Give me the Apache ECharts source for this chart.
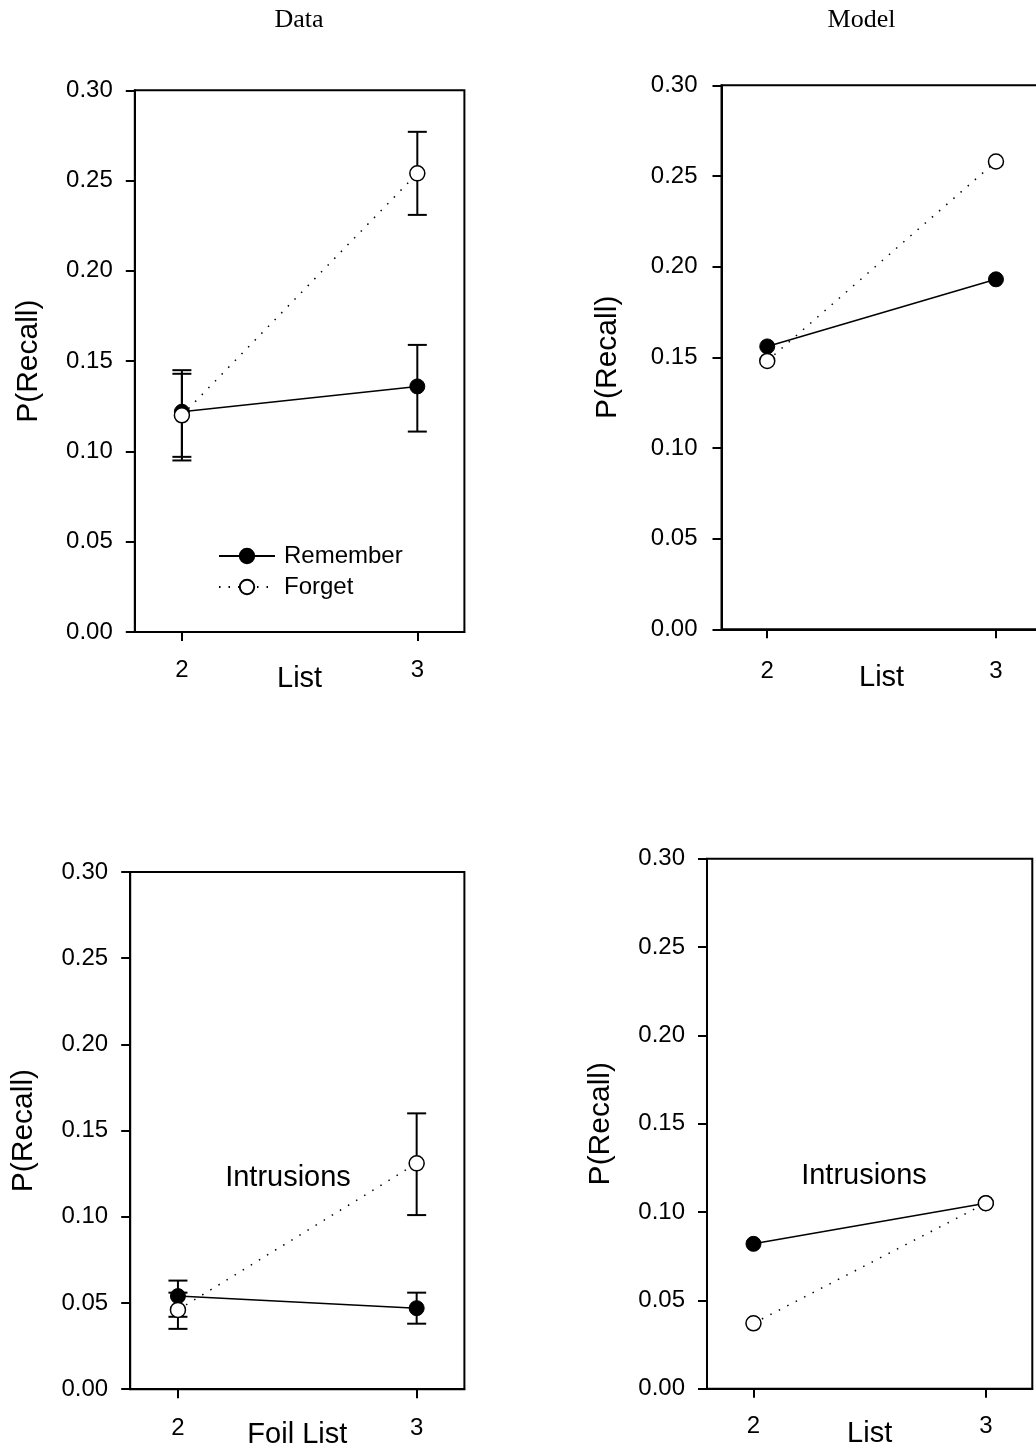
<!DOCTYPE html>
<html>
<head>
<meta charset="utf-8">
<title>P(Recall) by List: Data and Model</title>
<script src="https://cdn.jsdelivr.net/npm/echarts@6/dist/echarts.min.js"></script>
<style>
  html, body { margin: 0; padding: 0; background: #fff; }
  #chart { width: 1036px; height: 1450px; }
</style>
</head>
<body>
<div id="chart"></div>
<script>
// List positions shown on every x axis
const listValues = [2, 3];
const xTickLabels = ['2', '3'];

// Recall, observed (means with error-bar ends)
const recallDataRemember = [0.122, 0.136];
const recallDataForget = [0.120, 0.254];
const recallDataRememberLow = [0.097, 0.111];
const recallDataRememberHigh = [0.145, 0.159];
const recallDataForgetLow = [0.095, 0.231];
const recallDataForgetHigh = [0.143, 0.277];

// Recall, model predictions
const recallModelRemember = [0.156, 0.193];
const recallModelForget = [0.148, 0.258];

// Intrusions, observed (means with error-bar ends)
const intrusionDataRemember = [0.054, 0.047];
const intrusionDataForget = [0.046, 0.131];
const intrusionDataRememberLow = [0.042, 0.038];
const intrusionDataRememberHigh = [0.063, 0.056];
const intrusionDataForgetLow = [0.035, 0.101];
const intrusionDataForgetHigh = [0.056, 0.160];

// Intrusions, model predictions
const intrusionModelRemember = [0.082, 0.105];
const intrusionModelForget = [0.037, 0.105];

const SANS = '"Liberation Sans", Arial, sans-serif';
const SERIF = '"Liberation Serif", "Times New Roman", serif';

const chart = echarts.init(document.getElementById('chart'), null, { renderer: 'canvas' });

// Plot frames (pixels); the top-right frame runs past the right edge
const grids = [
  { left: 134.8, top: 90.3, width: 329.6, height: 541.7 },
  { left: 721.5, top: 85.3, width: 320.2, height: 544 },
  { left: 130.2, top: 872, width: 334.2, height: 517.2 },
  { left: 707, top: 858.7, width: 325.3, height: 530 }
];

const xNames = ['List', 'List', 'Foil List', 'List'];
const xLabelMargins = [26, 30, 27, 26];
const xNameGaps = [32, 34, 31, 31];
const yNameGaps = [91, 99, 91, 91];
const yLabelMargins = [22, 24, 22, 22];

const xAxes = grids.map((g, i) => ({
  type: 'value',
  gridIndex: i,
  min: 1.8,
  max: 3.2,
  name: xNames[i],
  nameLocation: 'middle',
  nameGap: xNameGaps[i],
  nameMoveOverlap: false,
  nameTextStyle: { fontFamily: SANS, fontSize: 29, color: '#000' },
  axisLine: { show: true, lineStyle: { color: '#000', width: 2 } },
  axisTick: { show: true, length: 9, customValues: listValues, lineStyle: { color: '#000', width: 2 } },
  axisLabel: {
    show: true,
    customValues: listValues,
    margin: xLabelMargins[i],
    fontFamily: SANS,
    fontSize: 24,
    color: '#000',
    formatter: v => xTickLabels[listValues.indexOf(v)]
  },
  splitLine: { show: false }
}));

const yAxes = grids.map((g, i) => ({
  type: 'value',
  gridIndex: i,
  min: 0,
  max: 0.3,
  interval: 0.05,
  name: 'P(Recall)',
  nameLocation: 'middle',
  nameGap: yNameGaps[i],
  nameMoveOverlap: false,
  nameTextStyle: { fontFamily: SANS, fontSize: 30, color: '#000' },
  axisLine: { show: true, lineStyle: { color: '#000', width: 2 } },
  axisTick: { show: true, length: 9, lineStyle: { color: '#000', width: 2 } },
  axisLabel: {
    margin: yLabelMargins[i],
    fontFamily: SANS,
    fontSize: 24,
    color: '#000',
    formatter: v => v.toFixed(2)
  },
  splitLine: { show: false }
}));

// Vertical error bar with short horizontal caps
function errorBarItem(params, api) {
  const x = api.value(0);
  const top = api.coord([x, api.value(2)]);
  const bottom = api.coord([x, api.value(1)]);
  const half = 9.5;
  const style = { stroke: '#000', lineWidth: 2 };
  return {
    type: 'group',
    children: [
      { type: 'line', shape: { x1: top[0], y1: top[1], x2: bottom[0], y2: bottom[1] }, style },
      { type: 'line', shape: { x1: top[0] - half, y1: top[1], x2: top[0] + half, y2: top[1] }, style },
      { type: 'line', shape: { x1: bottom[0] - half, y1: bottom[1], x2: bottom[0] + half, y2: bottom[1] }, style }
    ]
  };
}

function errorSeries(gridIndex, low, high) {
  return {
    type: 'custom',
    xAxisIndex: gridIndex,
    yAxisIndex: gridIndex,
    renderItem: errorBarItem,
    z: 1,
    silent: true,
    data: listValues.map((x, k) => [x, low[k], high[k]])
  };
}

function rememberSeries(gridIndex, values) {
  return {
    name: 'Remember',
    type: 'line',
    xAxisIndex: gridIndex,
    yAxisIndex: gridIndex,
    z: 3,
    symbol: 'circle',
    symbolSize: 15,
    lineStyle: { color: '#000', width: 1.5, type: 'solid' },
    itemStyle: { color: '#000', borderColor: '#000', borderWidth: 1 },
    data: listValues.map((x, k) => [x, values[k]])
  };
}

function forgetSeries(gridIndex, values) {
  return {
    name: 'Forget',
    type: 'line',
    xAxisIndex: gridIndex,
    yAxisIndex: gridIndex,
    z: 4,
    symbol: 'circle',
    symbolSize: 15,
    lineStyle: { color: '#000', width: 1.5, type: [1.5, 8] },
    itemStyle: { color: '#fff', borderColor: '#000', borderWidth: 1.5 },
    data: listValues.map((x, k) => [x, values[k]])
  };
}

const series = [
  // Data: recall
  errorSeries(0, recallDataRememberLow, recallDataRememberHigh),
  errorSeries(0, recallDataForgetLow, recallDataForgetHigh),
  rememberSeries(0, recallDataRemember),
  forgetSeries(0, recallDataForget),
  // Model: recall
  rememberSeries(1, recallModelRemember),
  forgetSeries(1, recallModelForget),
  // Data: intrusions
  errorSeries(2, intrusionDataRememberLow, intrusionDataRememberHigh),
  errorSeries(2, intrusionDataForgetLow, intrusionDataForgetHigh),
  rememberSeries(2, intrusionDataRemember),
  forgetSeries(2, intrusionDataForget),
  // Model: intrusions
  rememberSeries(3, intrusionModelRemember),
  forgetSeries(3, intrusionModelForget)
];

function caption(text, x, y, font) {
  return {
    type: 'text',
    x: x,
    y: y,
    style: { text: text, font: font, fill: '#000', textAlign: 'center', textVerticalAlign: 'middle' }
  };
}

chart.setOption({
  animation: false,
  backgroundColor: '#fff',
  grid: grids.map(g => Object.assign({
    show: true,
    borderColor: '#000',
    borderWidth: 2,
    backgroundColor: 'transparent',
    containLabel: false,
    outerBoundsMode: 'none'
  }, g)),
  xAxis: xAxes,
  yAxis: yAxes,
  legend: {
    data: ['Remember', 'Forget'],
    orient: 'vertical',
    left: 213,
    top: 539,
    itemWidth: 56,
    itemHeight: 18,
    itemGap: 7,
    selectedMode: false,
    textStyle: { fontFamily: SANS, fontSize: 24, color: '#000', padding: [0, 0, 0, 4] }
  },
  graphic: [
    caption('Data', 299, 20, 'normal 26px ' + SERIF),
    caption('Model', 861.5, 20, 'normal 26px ' + SERIF),
    caption('Intrusions', 288, 1178, 'normal 29px ' + SANS),
    caption('Intrusions', 864, 1176, 'normal 29px ' + SANS)
  ],
  series: series
});
</script>
</body>
</html>
